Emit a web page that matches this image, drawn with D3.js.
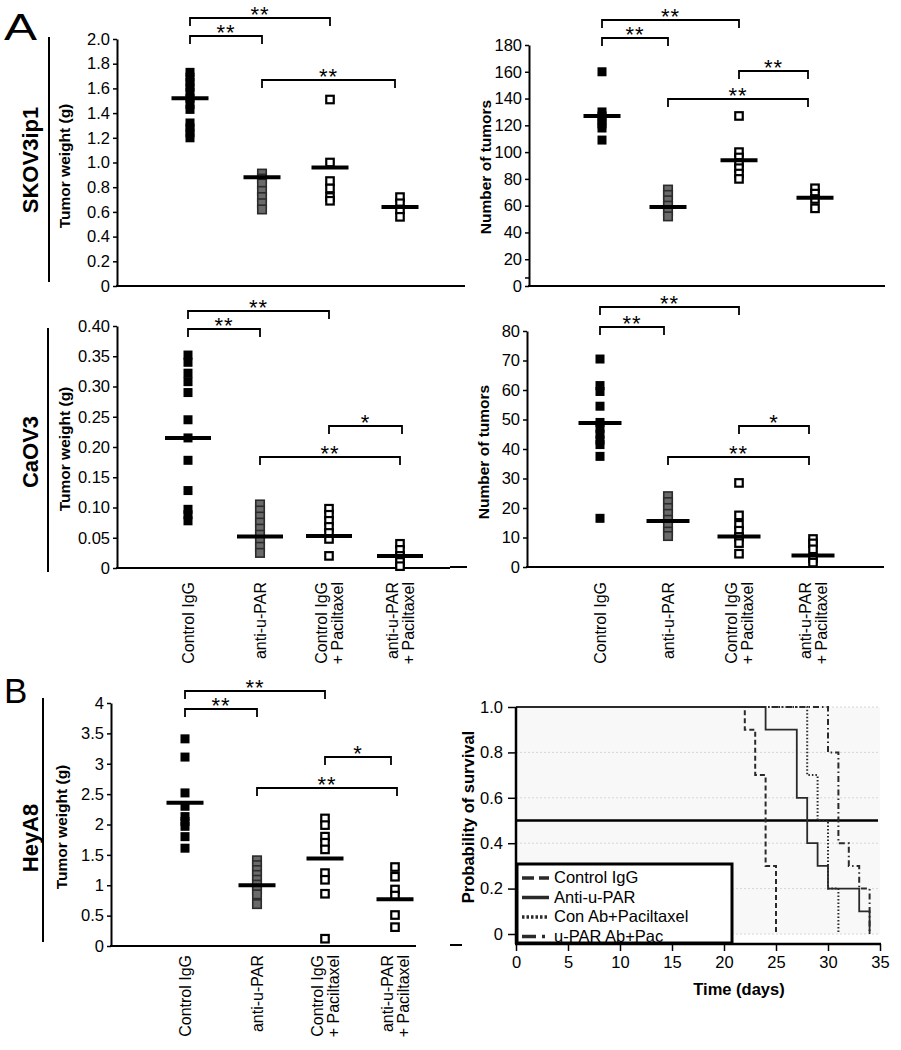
<!DOCTYPE html>
<html><head><meta charset="utf-8">
<script src="https://cdn.jsdelivr.net/npm/d3@7"></script>
<style>
body{margin:0;background:#fff}
svg{display:block}
text{font-family:"Liberation Sans",Arial,Helvetica,sans-serif;fill:#000}
</style>
</head><body>
<svg id="fig" width="901" height="1050"></svg>
<script>
// ---------------- DATA ----------------
const groups = ["Control IgG", "anti-u-PAR", "Control IgG + Paciltaxel", "anti-u-PAR + Paciltaxel"];
const groupLabels = [["Control IgG"], ["anti-u-PAR"], ["Control IgG", "+ Paciltaxel"], ["anti-u-PAR", "+ Paciltaxel"]];

// SKOV3ip1 – tumor weight (g)
const skovWeight = [
  [1.73, 1.69, 1.65, 1.61, 1.57, 1.52, 1.47, 1.43, 1.32, 1.28, 1.24, 1.20],
  [0.91, 0.87, 0.83, 0.77, 0.72, 0.67, 0.62],
  [1.51, 1.00, 0.85, 0.79, 0.72, 0.69],
  [0.72, 0.67, 0.62, 0.56]
];
const skovWeightMean = [1.52, 0.88, 0.96, 0.64];
const skovWeightTicks = [0, 0.2, 0.4, 0.6, 0.8, 1.0, 1.2, 1.4, 1.6, 1.8, 2.0];

// SKOV3ip1 – number of tumors
const skovCount = [
  [160, 130, 127, 124, 121, 118, 109],
  [72, 68, 64, 60, 56, 52],
  [127, 100, 96, 92, 88, 84, 80],
  [73, 69, 65, 58]
];
const skovCountMean = [127, 59, 94, 66];
const skovCountTicks = [0, 20, 40, 60, 80, 100, 120, 140, 160, 180];

// CaOV3 – tumor weight (g)
const caovWeight = [
  [0.352, 0.340, 0.322, 0.308, 0.290, 0.245, 0.215, 0.178, 0.128, 0.097, 0.088, 0.078],
  [0.105, 0.095, 0.085, 0.075, 0.065, 0.055, 0.045, 0.035, 0.025],
  [0.098, 0.088, 0.078, 0.068, 0.058, 0.048, 0.020],
  [0.040, 0.030, 0.020, 0.010, 0.003]
];
const caovWeightMean = [0.215, 0.052, 0.053, 0.020];
const caovWeightTicks = [0, 0.05, 0.10, 0.15, 0.20, 0.25, 0.30, 0.35, 0.40];

// CaOV3 – number of tumors
const caovCount = [
  [70.5, 61.5, 59.5, 54.5, 49, 47, 45, 43, 41.5, 37.5, 16.5],
  [24, 22, 20, 18, 16, 14, 12, 10.5],
  [28.5, 17.5, 14.3, 12.3, 10.2, 8.1, 4.5],
  [9.5, 8, 6, 3, 1.5]
];
const caovCountMean = [48.8, 15.6, 10.3, 3.9];
const caovCountTicks = [0, 10, 20, 30, 40, 50, 60, 70, 80];

// HeyA8 – tumor weight (g)
const heyWeight = [
  [3.41, 3.11, 2.52, 2.30, 2.13, 2.05, 1.97, 1.80, 1.61],
  [1.41, 1.33, 1.25, 1.17, 1.09, 1.01, 0.93, 0.85, 0.69],
  [2.10, 1.99, 1.80, 1.70, 1.59, 1.20, 1.09, 0.86, 0.12],
  [1.30, 1.14, 0.93, 0.83, 0.51, 0.31]
];
const heyWeightMean = [2.36, 1.00, 1.44, 0.77];
const heyWeightTicks = [0, 0.5, 1, 1.5, 2, 2.5, 3, 3.5, 4];

// significance comparisons: [group a, group b, label]
const compsSkovWeight = [[0, 2, "**"], [0, 1, "**"], [1, 3, "**"]];
const compsSkovCount = [[0, 2, "**"], [0, 1, "**"], [2, 3, "**"], [1, 3, "**"]];
const compsCaovWeight = [[0, 2, "**"], [0, 1, "**"], [2, 3, "*"], [1, 3, "**"]];
const compsCaovCount = [[0, 2, "**"], [0, 1, "**"], [2, 3, "*"], [1, 3, "**"]];
const compsHeyWeight = [[0, 2, "**"], [0, 1, "**"], [2, 3, "*"], [1, 3, "**"]];

// Survival (Kaplan–Meier) – [day, probability]
const survNames = ["Control IgG", "Anti-u-PAR", "Con Ab+Paciltaxel", "u-PAR Ab+Pac"];
const survControl = [[0, 1], [22, 0.9], [23, 0.7], [24, 0.3], [25, 0]];
const survAnti = [[0, 1], [24, 0.9], [27, 0.6], [28, 0.4], [29, 0.3], [30, 0.2], [33, 0.1], [34, 0]];
const survConPac = [[0, 1], [28, 0.7], [29, 0.5], [30, 0.2], [31, 0]];
const survAntiPac = [[0, 1], [30, 0.8], [31, 0.4], [32, 0.3], [33, 0.2], [34, 0]];
const survTimeTicks = [0, 5, 10, 15, 20, 25, 30, 35];
const survProbTicks = [0, 0.2, 0.4, 0.6, 0.8, 1.0];
const survMedianLine = 0.5;

// ---------------- DRAWING ----------------
const svg = d3.select("#fig");
const FONT = 16.5;

function styleAxis(sel, domainW) {
  sel.select(".domain").attr("stroke", "#000").attr("stroke-width", domainW);
  sel.selectAll(".tick line").attr("stroke", "#000").attr("stroke-width", 1.5);
  sel.selectAll(".tick text").attr("font-size", FONT).attr("fill", "#000")
     .attr("font-family", '"Liberation Sans",Arial,sans-serif');
}

function scatterPanel(cfg) {
  const g = svg.append("g");
  const y = d3.scaleLinear().domain(cfg.domain).range(cfg.yRange);
  const x = d3.scaleOrdinal().domain(groups).range(cfg.xs);

  // y axis
  const ya = d3.axisLeft(y).tickValues(cfg.ticks).tickFormat(cfg.fmt)
    .tickSize(4).tickPadding(3).tickSizeOuter(0);
  const yg = g.append("g").attr("transform", `translate(${cfg.axisX},0)`).call(ya);
  styleAxis(yg, 2);
  if (cfg.minorTicks) {
    yg.selectAll(".minor").data(cfg.minorTicks).join("line")
      .attr("x1", -4).attr("x2", 0).attr("y1", d => y(d)).attr("y2", d => y(d))
      .attr("stroke", "#000").attr("stroke-width", 1.5);
  }
  // x axis baseline
  g.append("line").attr("x1", cfg.axisX - 1).attr("x2", cfg.axisEnd)
    .attr("y1", y(0)).attr("y2", y(0)).attr("stroke", "#000").attr("stroke-width", 2);

  // points
  const styles = [
    {s: 9, fill: "#000", stroke: "none", sw: 0},
    {s: 8.5, fill: "#6a6a6a", stroke: "#2b2b2b", sw: 1.6},
    {s: 7.5, fill: "#fff", stroke: "#000", sw: 2.2},
    {s: 7.5, fill: "#fff", stroke: "#000", sw: 2.2}
  ];
  groups.forEach((grp, i) => {
    const st = styles[i];
    g.append("g").selectAll("rect").data(cfg.values[i]).join("rect")
      .attr("x", x(grp) - st.s / 2).attr("y", d => y(d) - st.s / 2)
      .attr("width", st.s).attr("height", st.s)
      .attr("fill", st.fill).attr("stroke", st.stroke).attr("stroke-width", st.sw);
  });
  // means
  g.append("g").selectAll("line").data(cfg.means).join("line")
    .attr("x1", (d, i) => x(groups[i]) - cfg.meanW / 2)
    .attr("x2", (d, i) => x(groups[i]) + cfg.meanW / 2)
    .attr("y1", d => y(d)).attr("y2", d => y(d))
    .attr("stroke", "#000").attr("stroke-width", 4);

  // brackets
  cfg.comps.forEach((c, k) => {
    const top = cfg.bracketTops[k];
    const x1 = x(groups[c[0]]), x2 = x(groups[c[1]]) - (cfg.bracketInset ? cfg.bracketInset[k] : 0);
    g.append("path")
      .attr("d", `M${x1},${top + 8}V${top}H${x2}V${top + 8}`)
      .attr("fill", "none").attr("stroke", "#000").attr("stroke-width", 1.8);
    g.append("text").attr("x", (x1 + x2) / 2).attr("y", top + 4)
      .attr("text-anchor", "middle").attr("font-size", 22).attr("letter-spacing", 1)
      .text(c[2]);
  });

  // y label
  g.append("text")
    .attr("transform", `translate(${cfg.yLabelPos[0]},${cfg.yLabelPos[1]}) rotate(-90)`)
    .attr("text-anchor", "middle").attr("dy", "0.35em")
    .attr("font-size", 15.5).attr("font-weight", "bold").text(cfg.yLabel);

  // category labels
  if (cfg.labelTop) {
    groupLabels.forEach((lines, i) => {
      lines.forEach((t, k) => {
        const off = (k - (lines.length - 1) / 2) * 16;
        g.append("text")
          .attr("transform", `translate(${x(groups[i]) + off},${cfg.labelTop}) rotate(-90)`)
          .attr("text-anchor", "end").attr("dy", "0.35em")
          .attr("font-size", 16).text(t);
      });
    });
  }
}

const fmt1 = d => d === 0 ? "0" : d.toFixed(1);
const fmt2 = d => d === 0 ? "0" : d.toFixed(2);
const fmt0 = d => String(d);
const fmtHalf = d => d === 0 ? "0" : (Number.isInteger(d) ? String(d) : d.toFixed(1));

scatterPanel({
  values: skovWeight, means: skovWeightMean, comps: compsSkovWeight,
  domain: [0, 2], yRange: [286, 39], ticks: skovWeightTicks, fmt: fmt1,
  axisX: 117, axisEnd: 450, xs: [190, 262, 330, 400], meanW: 37,
  bracketTops: [18, 36, 80], bracketInset: [0, 0, 5],
  yLabel: "Tumor weight (g)", yLabelPos: [65, 166]
});
scatterPanel({
  values: skovCount, means: skovCountMean, comps: compsSkovCount,
  domain: [0, 180], yRange: [286, 45], ticks: skovCountTicks, fmt: fmt0, minorTicks: [6],
  axisX: 529, axisEnd: 885, xs: [602, 668, 739, 815], meanW: 37,
  bracketTops: [20, 38, 71, 99], bracketInset: [0, 0, 7, 7],
  yLabel: "Number of tumors", yLabelPos: [486, 167]
});
scatterPanel({
  values: caovWeight, means: caovWeightMean, comps: compsCaovWeight,
  domain: [0, 0.4], yRange: [568, 326], ticks: caovWeightTicks, fmt: fmt2,
  axisX: 117, axisEnd: 450, xs: [188, 260, 329, 400], meanW: 46,
  bracketTops: [311, 329, 426, 457], bracketInset: [0, 0, -2, 0],
  yLabel: "Tumor weight (g)", yLabelPos: [65, 449], labelTop: 582
});
scatterPanel({
  values: caovCount, means: caovCountMean, comps: compsCaovCount,
  domain: [0, 80], yRange: [567, 331], ticks: caovCountTicks, fmt: fmt0,
  axisX: 527, axisEnd: 884, xs: [600, 668, 739, 813], meanW: 43,
  bracketTops: [307, 327, 426, 457], bracketInset: [0, 4, 4, 4],
  yLabel: "Number of tumors", yLabelPos: [484, 452], labelTop: 582
});
scatterPanel({
  values: heyWeight, means: heyWeightMean, comps: compsHeyWeight,
  domain: [0, 4], yRange: [946, 703], ticks: heyWeightTicks, fmt: fmtHalf,
  axisX: 111, axisEnd: 416, xs: [185, 257, 325, 395], meanW: 37,
  bracketTops: [691, 709, 757, 788], bracketInset: [0, 0, 4, -2],
  yLabel: "Tumor weight (g)", yLabelPos: [62, 827], labelTop: 955
});

// Panel letters, cell-line labels and vertical rules
svg.append("text").attr("x", 4).attr("y", 40).attr("font-size", 36)
  .attr("textLength", 33).attr("lengthAdjust", "spacingAndGlyphs").text("A");
svg.append("text").attr("x", 4).attr("y", 703).attr("font-size", 35).text("B");
[["SKOV3ip1", 30, 160, 49, 37, 282], ["CaOV3", 30, 452, 48, 328, 572], ["HeyA8", 30, 838, 43, 698, 942]]
  .forEach(([t, cx, cy, lx, ly1, ly2]) => {
    svg.append("text").attr("transform", `translate(${cx},${cy}) rotate(-90)`)
      .attr("text-anchor", "middle").attr("dy", "0.35em")
      .attr("font-size", 22).attr("font-weight", "bold").text(t);
    svg.append("line").attr("x1", lx).attr("x2", lx).attr("y1", ly1).attr("y2", ly2)
      .attr("stroke", "#000").attr("stroke-width", 2);
  });
// small stray dashes (from original layout)
[[450, 465, 286], [450, 467, 567], [450, 462, 945]].forEach(([a, b, yy]) =>
  svg.append("line").attr("x1", a).attr("x2", b).attr("y1", yy).attr("y2", yy)
    .attr("stroke", "#000").attr("stroke-width", 2));

// ---------------- Survival panel ----------------
(function () {
  const g = svg.append("g");
  const sx = d3.scaleLinear().domain([0, 35]).range([516, 880]);
  const sy = d3.scaleLinear().domain([0, 1]).range([934, 707]);
  const axisY = 944;

  g.append("rect").attr("x", sx(0)).attr("y", sy(1)).attr("width", sx(35) - sx(0))
    .attr("height", sy(0) - sy(1)).attr("fill", "#f8f8f8");
  g.append("g").selectAll("line").data(survProbTicks).join("line")
    .attr("x1", sx(0)).attr("x2", sx(35)).attr("y1", d => sy(d)).attr("y2", d => sy(d))
    .attr("stroke", "#d6d6d6").attr("stroke-width", 1).attr("stroke-dasharray", "2,2");

  // median line
  g.append("line").attr("x1", sx(0)).attr("x2", sx(35) - 2)
    .attr("y1", sy(survMedianLine)).attr("y2", sy(survMedianLine))
    .attr("stroke", "#000").attr("stroke-width", 2.5);

  const line = d3.line().x(d => sx(d[0])).y(d => sy(d[1])).curve(d3.curveStepAfter);
  const series = [
    {d: survControl, dash: "5,3", w: 2, sdash: "12,5", sw: 3.5},
    {d: survAnti, dash: null, w: 1.8, sdash: null, sw: 3.5},
    {d: survConPac, dash: "1.5,2", w: 2, sdash: "2.5,2", sw: 3.5},
    {d: survAntiPac, dash: "6,3,1.5,3", w: 2, sdash: "14,6,3,10", sw: 3.5}
  ];
  series.forEach(s => {
    g.append("path").attr("d", line(s.d)).attr("fill", "none")
      .attr("stroke", "#2a2a2a").attr("stroke-width", s.w)
      .attr("stroke-dasharray", s.dash);
  });

  // axes
  const xa = d3.axisBottom(sx).tickValues(survTimeTicks).tickSize(7).tickPadding(5).tickSizeOuter(0);
  const xg = g.append("g").attr("transform", `translate(0,${axisY})`).call(xa);
  styleAxis(xg, 2.5);
  xg.select(".domain").attr("d", `M${sx(0) - 1},0H${sx(35) + 1}`);
  const ya = d3.axisLeft(sy).tickValues(survProbTicks).tickFormat(d => d === 0 ? "0" : d.toFixed(1))
    .tickSize(8).tickPadding(5).tickSizeOuter(0);
  const yg = g.append("g").attr("transform", `translate(${sx(0)},0)`).call(ya);
  styleAxis(yg, 2.5);
  yg.select(".domain").attr("d", `M0,${sy(1)}V${axisY}`);

  g.append("text").attr("x", 739).attr("y", 995).attr("text-anchor", "middle")
    .attr("font-size", 16.5).attr("font-weight", "bold").text("Time (days)");
  g.append("text").attr("transform", `translate(468,817) rotate(-90)`)
    .attr("text-anchor", "middle").attr("dy", "0.35em")
    .attr("font-size", 16.5).attr("font-weight", "bold").text("Probability of survival");

  // legend
  const lg = g.append("g");
  lg.append("rect").attr("x", 517).attr("y", 864).attr("width", 215).attr("height", 79)
    .attr("fill", "#fff").attr("stroke", "#000").attr("stroke-width", 3);
  survNames.forEach((n, i) => {
    const by = 883 + i * 19.5;
    lg.append("line").attr("x1", 522).attr("x2", 549).attr("y1", by - 5).attr("y2", by - 5)
      .attr("stroke", "#2a2a2a").attr("stroke-width", series[i].sw)
      .attr("stroke-dasharray", series[i].sdash);
    lg.append("text").attr("x", 554).attr("y", by).attr("font-size", 16.5).text(n);
  });
})();
</script>
</body></html>
